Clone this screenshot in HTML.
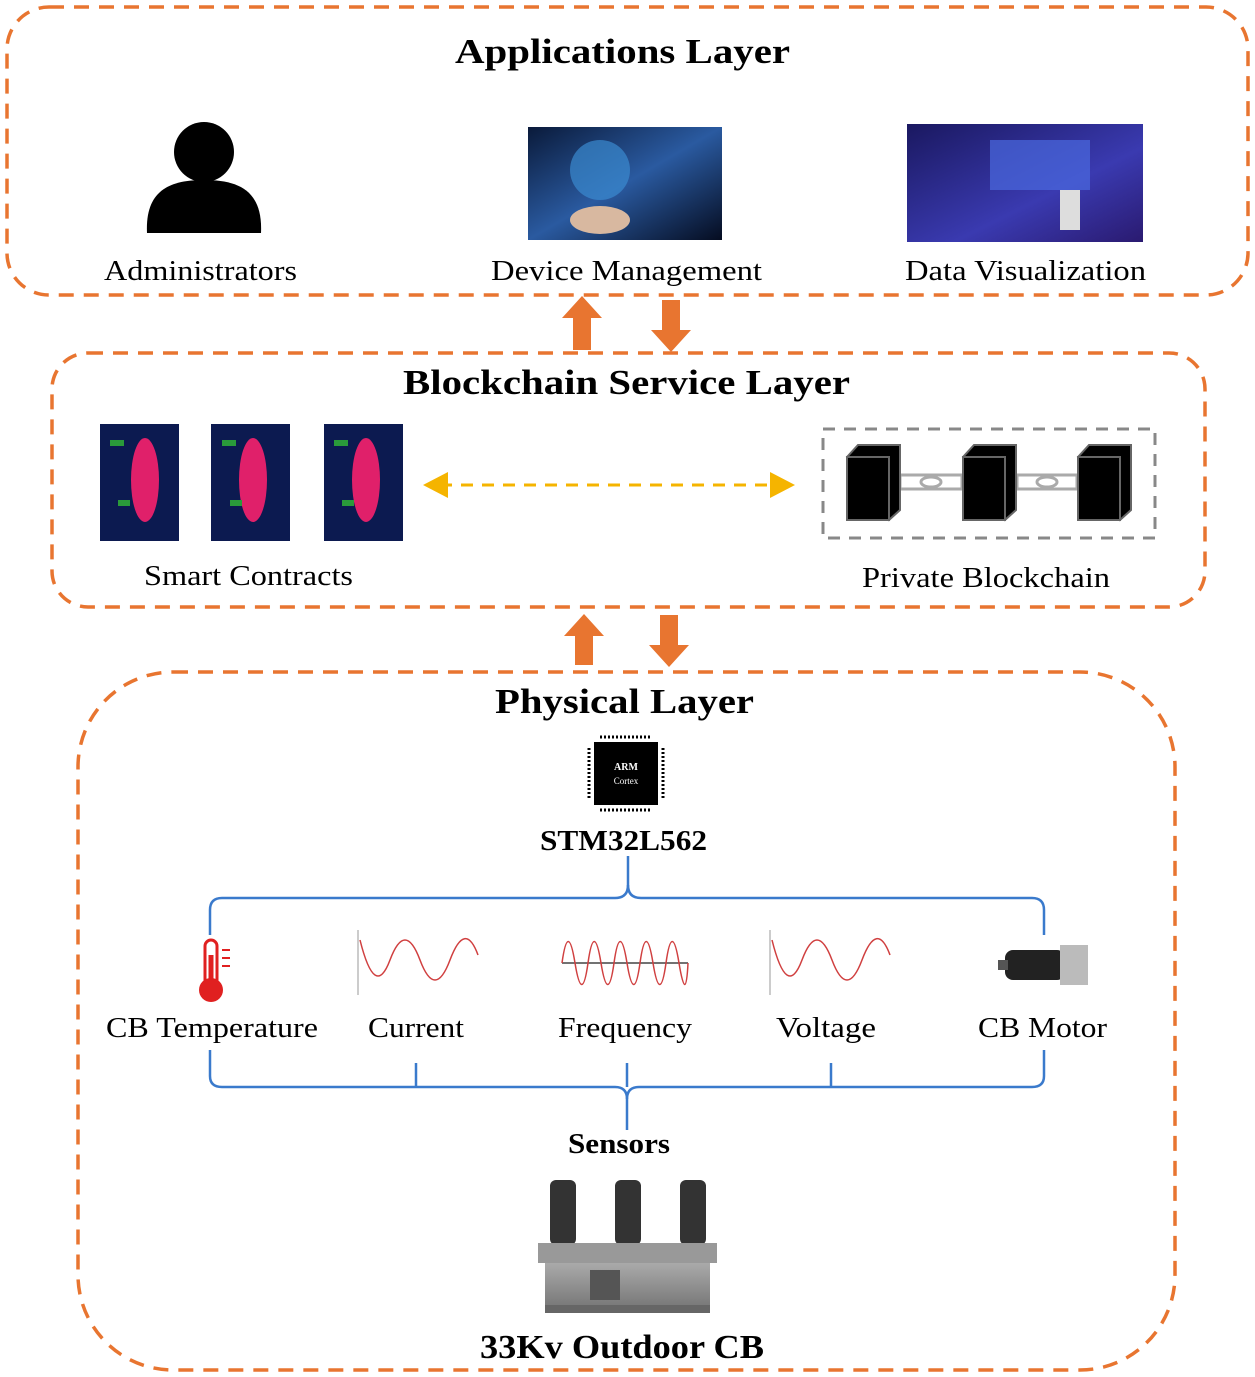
<!DOCTYPE html>
<html><head><meta charset="utf-8"><style>
html,body{margin:0;padding:0;background:#fff}
svg{display:block}
text{font-family:"Liberation Serif",serif;fill:#000}
.t{font-size:35px;font-weight:bold}
.l{font-size:29px}
</style></head><body>
<svg width="1255" height="1377" viewBox="0 0 1255 1377">
<defs>
<linearGradient id="dm" x1="0" y1="0" x2="1" y2="1"><stop offset="0" stop-color="#0a1a3a"/><stop offset="0.5" stop-color="#2a5aa0"/><stop offset="1" stop-color="#050c20"/></linearGradient>
<linearGradient id="dv" x1="0" y1="0" x2="1" y2="1"><stop offset="0" stop-color="#1a1860"/><stop offset="0.6" stop-color="#3a3ab0"/><stop offset="1" stop-color="#2a1a70"/></linearGradient>
<linearGradient id="cb" x1="0" y1="0" x2="0" y2="1"><stop offset="0" stop-color="#aaa"/><stop offset="1" stop-color="#777"/></linearGradient>
</defs>
<g fill="none" stroke="#E87530" stroke-width="3.5" stroke-dasharray="15 10">
<rect x="7" y="7" width="1241" height="288" rx="42"/>
<rect x="52" y="353" width="1153" height="254" rx="36"/>
<rect x="78" y="672" width="1097" height="698" rx="95"/>
</g>
<text class="t" x="455" y="63" textLength="335" lengthAdjust="spacingAndGlyphs">Applications Layer</text>
<text class="t" x="403" y="394" textLength="447" lengthAdjust="spacingAndGlyphs">Blockchain Service Layer</text>
<text class="t" x="495" y="713" textLength="259" lengthAdjust="spacingAndGlyphs">Physical Layer</text>
<!-- admin -->
<circle cx="204" cy="152" r="30" fill="#000"/>
<path d="M147,233 C145,190 170,180 204,180 C238,180 263,190 261,233 Z" fill="#000"/>
<text class="l" x="104" y="280" textLength="193" lengthAdjust="spacingAndGlyphs">Administrators</text>
<rect x="528" y="127" width="194" height="113" fill="url(#dm)"/>
<circle cx="600" cy="170" r="30" fill="#3a8ad0" opacity="0.7"/>
<ellipse cx="600" cy="220" rx="30" ry="14" fill="#d8b8a0"/>
<text class="l" x="491" y="280" textLength="271" lengthAdjust="spacingAndGlyphs">Device Management</text>
<rect x="907" y="124" width="236" height="118" fill="url(#dv)"/>
<rect x="990" y="140" width="100" height="50" fill="#4a6ae0" opacity="0.7"/>
<rect x="1060" y="190" width="20" height="40" fill="#ddd"/>
<text class="l" x="905" y="280" textLength="241" lengthAdjust="spacingAndGlyphs">Data Visualization</text>
<!-- arrows -->
<g fill="#E87530">
<path d="M573,350 V318 H562 L582,296 L602,318 H591 V350 Z"/>
<path d="M662,300 V330 H651 L671,352 L691,330 H680 V300 Z"/>
<path d="M575,665 V636 H564 L584,614 L604,636 H593 V665 Z"/>
<path d="M660,615 V645 H649 L669,667 L689,645 H678 V615 Z"/>
</g>
<!-- smart contracts -->
<g>
<rect x="100" y="424" width="79" height="117" fill="#0c1a50"/>
<rect x="211" y="424" width="79" height="117" fill="#0c1a50"/>
<rect x="324" y="424" width="79" height="117" fill="#0c1a50"/>
<g fill="#e0206a"><ellipse cx="145" cy="480" rx="14" ry="42"/><ellipse cx="253" cy="480" rx="14" ry="42"/><ellipse cx="366" cy="480" rx="14" ry="42"/></g>
<g fill="#2a9a3a"><rect x="110" y="440" width="14" height="6"/><rect x="118" y="500" width="12" height="6"/><rect x="222" y="440" width="14" height="6"/><rect x="230" y="500" width="12" height="6"/><rect x="334" y="440" width="14" height="6"/><rect x="342" y="500" width="12" height="6"/></g>
</g>
<text class="l" x="144" y="585" textLength="209" lengthAdjust="spacingAndGlyphs">Smart Contracts</text>
<line x1="440" y1="485" x2="778" y2="485" stroke="#F5B400" stroke-width="3" stroke-dasharray="12 9"/>
<path d="M423,485 L448,472 L448,498 Z" fill="#F5B400"/>
<path d="M795,485 L770,472 L770,498 Z" fill="#F5B400"/>
<rect x="823" y="429" width="332" height="109" fill="none" stroke="#888" stroke-width="3" stroke-dasharray="12 9"/>
<g stroke="#aaa" stroke-width="3" fill="#fff"><rect x="900" y="475" width="62" height="14"/><rect x="1017" y="475" width="60" height="14"/><ellipse cx="931" cy="482" rx="10" ry="5"/><ellipse cx="1047" cy="482" rx="10" ry="5"/></g>
<g fill="#000" stroke="#666" stroke-width="2">
<path d="M847,457 L858,445 L900,445 L900,510 L889,520 Z"/><rect x="847" y="457" width="42" height="63"/>
<path d="M963,457 L974,445 L1016,445 L1016,510 L1005,520 Z"/><rect x="963" y="457" width="42" height="63"/>
<path d="M1078,457 L1089,445 L1131,445 L1131,510 L1120,520 Z"/><rect x="1078" y="457" width="42" height="63"/>
</g>
<text class="l" x="862" y="587" textLength="248" lengthAdjust="spacingAndGlyphs">Private Blockchain</text>
<!-- chip -->
<rect x="594" y="742" width="64" height="63" fill="#000"/>
<g stroke="#000" stroke-width="3" stroke-dasharray="2 2"><line x1="600" y1="737" x2="652" y2="737"/><line x1="600" y1="810" x2="652" y2="810"/><line x1="589" y1="748" x2="589" y2="800"/><line x1="663" y1="748" x2="663" y2="800"/></g>
<text x="626" y="770" font-size="10" text-anchor="middle" style="fill:#fff;font-weight:bold">ARM</text>
<text x="626" y="784" font-size="9" text-anchor="middle" style="fill:#fff">Cortex</text>
<text x="540" y="850" textLength="167" lengthAdjust="spacingAndGlyphs" style="font-size:29px;font-weight:bold">STM32L562</text>
<!-- brackets -->
<g fill="none" stroke="#3a7acc" stroke-width="2.5">
<path d="M628,856 V885 Q628,898 615,898 H222 Q210,898 210,910 V935"/>
<path d="M628,885 Q628,898 641,898 H1032 Q1044,898 1044,910 V935"/>
<path d="M210,1050 V1076 Q210,1087 222,1087 H615 Q627,1087 627,1099 V1130"/>
<path d="M1044,1050 V1076 Q1044,1087 1032,1087 H639 Q627,1087 627,1099"/>
<line x1="416" y1="1063" x2="416" y2="1087"/><line x1="627" y1="1063" x2="627" y2="1087"/><line x1="831" y1="1063" x2="831" y2="1087"/>
</g>
<!-- sensor icons -->
<rect x="205" y="940" width="12" height="48" rx="6" fill="none" stroke="#e02020" stroke-width="3"/>
<circle cx="211" cy="990" r="12" fill="#e02020"/>
<line x1="211" y1="955" x2="211" y2="985" stroke="#e02020" stroke-width="5"/>
<g stroke="#e02020" stroke-width="2"><line x1="222" y1="950" x2="230" y2="950"/><line x1="222" y1="958" x2="230" y2="958"/><line x1="222" y1="966" x2="230" y2="966"/></g>
<g fill="none" stroke="#d04040" stroke-width="1.5">
<line x1="358" y1="930" x2="358" y2="995" stroke="#bbb"/>
<path d="M360,940 Q375,1000 390,960 T420,960 T450,960 T478,955"/>
<line x1="770" y1="930" x2="770" y2="995" stroke="#bbb"/>
<path d="M772,940 Q787,1000 802,960 T832,960 T862,960 T890,955"/>
<line x1="562" y1="963" x2="688" y2="963" stroke="#444"/>
<path d="M562,963 Q568,920 575,963 T588,963 T601,963 T614,963 T627,963 T640,963 T653,963 T666,963 T679,963 T688,963"/>
</g>
<g><rect x="1005" y="950" width="60" height="30" rx="8" fill="#222"/><rect x="1060" y="945" width="28" height="40" fill="#bbb"/><rect x="998" y="960" width="10" height="10" fill="#555"/></g>
<text class="l" x="106" y="1037" textLength="212" lengthAdjust="spacingAndGlyphs">CB Temperature</text>
<text class="l" x="368" y="1037" textLength="96" lengthAdjust="spacingAndGlyphs">Current</text>
<text class="l" x="558" y="1037" textLength="134" lengthAdjust="spacingAndGlyphs">Frequency</text>
<text class="l" x="776" y="1037" textLength="100" lengthAdjust="spacingAndGlyphs">Voltage</text>
<text class="l" x="978" y="1037" textLength="129" lengthAdjust="spacingAndGlyphs">CB Motor</text>
<text x="568" y="1153" textLength="102" lengthAdjust="spacingAndGlyphs" style="font-size:29px;font-weight:bold">Sensors</text>
<!-- breaker -->
<g fill="#333"><rect x="550" y="1180" width="26" height="65" rx="6"/><rect x="615" y="1180" width="26" height="65" rx="6"/><rect x="680" y="1180" width="26" height="65" rx="6"/></g>
<rect x="538" y="1243" width="179" height="20" fill="#999"/>
<rect x="545" y="1263" width="165" height="45" fill="url(#cb)"/>
<rect x="590" y="1270" width="30" height="30" fill="#555"/>
<rect x="545" y="1305" width="165" height="8" fill="#666"/>
<text x="480" y="1358" textLength="284" lengthAdjust="spacingAndGlyphs" style="font-size:34px;font-weight:bold">33Kv Outdoor CB</text>
</svg>
</body></html>
